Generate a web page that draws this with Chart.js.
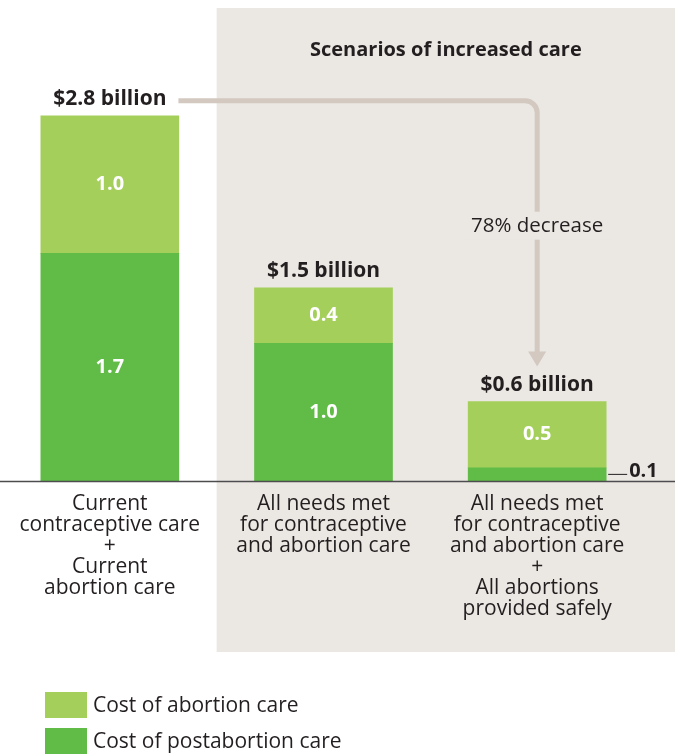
<!DOCTYPE html>
<html>
<head>
<meta charset="utf-8">
<script src="https://cdn.jsdelivr.net/npm/chart.js@4.4.1/dist/chart.umd.min.js"></script>
<style>
  html, body { margin: 0; padding: 0; background: #fff; }
  #wrap { position: relative; width: 675px; height: 755px; }
</style>
</head>
<body>
<div id="wrap"><canvas id="costChart"></canvas></div>
<script>
// values in billions of US$
var categories = [
    ['Current', 'contraceptive care', '+', 'Current', 'abortion care'],
    ['All needs met', 'for contraceptive', 'and abortion care'],
    ['All needs met', 'for contraceptive', 'and abortion care', '+', 'All abortions', 'provided safely']
];
var postabortionCost = [1.72, 1.04, 0.1];
var abortionCost = [1.04, 0.42, 0.5];
var seriesNames = ['Cost of postabortion care', 'Cost of abortion care'];
var panelTitle = 'Scenarios of increased care';
var yTicks = [0, 3];

var FONT = '"Open Sans", sans-serif';
var INK = '#231f20';
var PANEL = '#ebe7e2';
var ARROW = '#d3c9c0';
var LIGHT_GREEN = '#a4cf5a';
var DARK_GREEN = '#60bb47';

function totals() {
    return postabortionCost.map(function(v, i) { return v + abortionCost[i]; });
}

// grey panel behind the scenario bars + its heading
var panelPlugin = {
    id: 'panel',
    beforeDraw: function(chart) {
        var ctx = chart.ctx;
        var x = chart.scales.x;
        var left = (x.getPixelForValue(0) + x.getPixelForValue(1)) / 2;
        ctx.save();
        ctx.fillStyle = '#fff';
        ctx.fillRect(0, 0, chart.width, chart.height);
        ctx.fillStyle = PANEL;
        ctx.fillRect(left, 8, chart.width - left, 644);
        ctx.fillStyle = INK;
        ctx.font = 'bold 20px ' + FONT;
        ctx.textAlign = 'center';
        ctx.textBaseline = 'middle';
        ctx.fillText(panelTitle, (left + chart.width) / 2, 50);
        ctx.restore();
    }
};

var labelPlugin = {
    id: 'barLabels',
    afterDatasetsDraw: function(chart) {
        var ctx = chart.ctx;
        var area = chart.chartArea;
        ctx.save();

        // baseline across the full width
        ctx.strokeStyle = '#4d4d4f';
        ctx.lineWidth = 1.5;
        ctx.beginPath();
        ctx.moveTo(0, area.bottom + 0.5);
        ctx.lineTo(chart.width, area.bottom + 0.5);
        ctx.stroke();

        ctx.textAlign = 'center';
        ctx.textBaseline = 'middle';
        ctx.font = 'bold 20px ' + FONT;

        // segment values
        chart.data.datasets.forEach(function(ds, di) {
            chart.getDatasetMeta(di).data.forEach(function(bar, i) {
                var txt = ds.data[i].toFixed(1);
                var h = bar.base - bar.y;
                var midY = (bar.base + bar.y) / 2;
                if (h > 24) {
                    ctx.fillStyle = '#fff';
                    ctx.textAlign = 'center';
                    ctx.fillText(txt, bar.x, midY);
                } else {
                    var right = bar.x + bar.width / 2;
                    ctx.strokeStyle = INK;
                    ctx.lineWidth = 1;
                    ctx.beginPath();
                    ctx.moveTo(right + 2, midY);
                    ctx.lineTo(right + 21, midY);
                    ctx.stroke();
                    ctx.fillStyle = INK;
                    ctx.textAlign = 'left';
                    ctx.fillText(txt, right + 23, midY - 3);
                }
            });
        });

        // totals above each stack
        var sums = totals();
        var topMeta = chart.getDatasetMeta(chart.data.datasets.length - 1);
        var tops = [];
        ctx.font = 'bold 21px ' + FONT;
        ctx.fillStyle = INK;
        ctx.textAlign = 'center';
        sums.forEach(function(t, i) {
            var bar = topMeta.data[i];
            var txt = '$' + t.toFixed(1) + ' billion';
            var y = bar.y - 17;
            ctx.fillText(txt, bar.x, y);
            tops.push({ x: bar.x, y: y, w: ctx.measureText(txt).width });
        });

        // arrow from current cost to the last scenario
        var first = tops[0], last = tops[tops.length - 1];
        var startX = first.x + first.w / 2 + 12;
        var lineY = first.y + 2;
        var tipY = last.y - 18;
        var r = 12;
        ctx.strokeStyle = ARROW;
        ctx.lineWidth = 5;
        ctx.beginPath();
        ctx.moveTo(startX, lineY);
        ctx.lineTo(last.x - r, lineY);
        ctx.arcTo(last.x, lineY, last.x, lineY + r, r);
        ctx.lineTo(last.x, tipY - 13);
        ctx.stroke();
        ctx.fillStyle = ARROW;
        ctx.beginPath();
        ctx.moveTo(last.x - 9, tipY - 15);
        ctx.lineTo(last.x + 9, tipY - 15);
        ctx.lineTo(last.x, tipY);
        ctx.closePath();
        ctx.fill();

        var pct = Math.round((1 - sums[sums.length - 1] / sums[0]) * 100);
        var note = pct + '% decrease';
        var noteY = (lineY + tipY) / 2 - 8;
        ctx.font = '20.5px ' + FONT;
        var nw = ctx.measureText(note).width;
        ctx.fillStyle = PANEL;
        ctx.fillRect(last.x - nw / 2 - 8, noteY - 14, nw + 16, 28);
        ctx.fillStyle = INK;
        ctx.fillText(note, last.x, noteY);

        // legend, top series first
        ctx.font = '21px ' + FONT;
        ctx.textAlign = 'left';
        var items = chart.data.datasets.slice().reverse();
        items.forEach(function(ds, k) {
            var y = 692 + k * 36;
            ctx.fillStyle = ds.backgroundColor;
            ctx.fillRect(45, y, 42, 26);
            ctx.fillStyle = INK;
            ctx.fillText(ds.label, 93, y + 14);
        });

        ctx.restore();
    }
};

new Chart(document.getElementById('costChart').getContext('2d'), {
    type: 'bar',
    data: {
        labels: categories,
        datasets: [{
            label: seriesNames[0],
            data: postabortionCost,
            backgroundColor: DARK_GREEN,
            borderWidth: 0
        }, {
            label: seriesNames[1],
            data: abortionCost,
            backgroundColor: LIGHT_GREEN,
            borderWidth: 0
        }]
    },
    options: {
        responsive: true,
        maintainAspectRatio: false,
        animation: false,
        layout: { padding: { left: 3, right: 31, top: 84, bottom: 94 } },
        datasets: { bar: { barThickness: 138 } },
        plugins: {
            legend: { display: false },
            tooltip: { enabled: false }
        },
        scales: {
            x: {
                stacked: true,
                grid: { display: false, drawTicks: false },
                border: { display: false },
                ticks: {
                    color: INK,
                    font: { family: FONT, size: 21, lineHeight: 1.0 },
                    padding: 13,
                    maxRotation: 0,
                    autoSkip: false
                },
                afterFit: function(scale) { scale.height = 180; }
            },
            y: {
                stacked: true,
                display: false,
                min: yTicks[0],
                max: yTicks[1]
            }
        }
    },
    plugins: [panelPlugin, labelPlugin]
});
</script>
</body>
</html>
